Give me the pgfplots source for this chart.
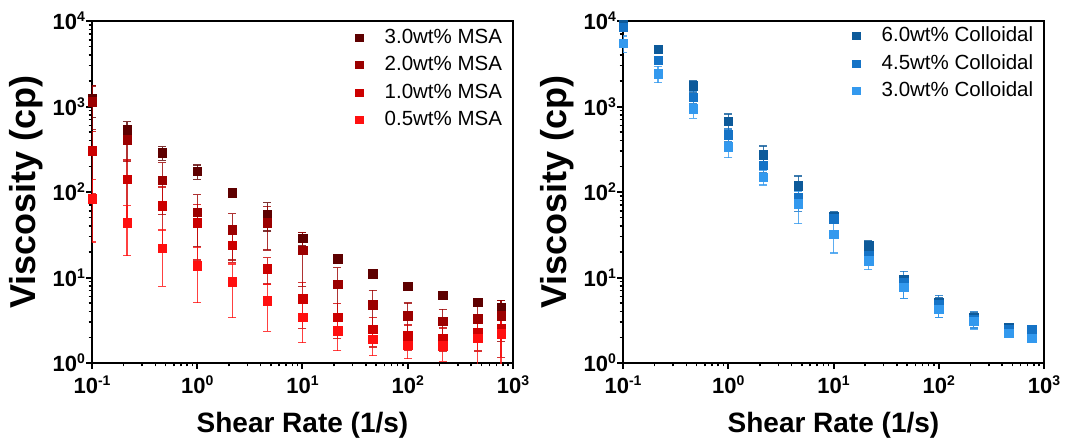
\documentclass[border=0pt]{standalone}
\usepackage{pgfplots}
\pgfplotsset{compat=1.18}
\usepackage{fontspec}
\setmainfont{Liberation Sans}
\definecolor{mA}{HTML}{5E0000}
\definecolor{mB}{HTML}{9B0000}
\definecolor{mC}{HTML}{CC0000}
\definecolor{mD}{HTML}{FF1010}
\definecolor{cA}{HTML}{0D5A9A}
\definecolor{cB}{HTML}{1573C6}
\definecolor{cC}{HTML}{3399EE}
\newcommand{\tl}[1]{\fontsize{22}{26}\selectfont\bfseries 10\raisebox{8pt}{\fontsize{14}{14}\selectfont\bfseries #1}}
\pgfplotsset{
  legend image code/.code={\path[draw=none] (-4.25pt,0pt) -- (25.5pt,0pt); \draw[#1, mark size=3.6pt] plot coordinates {(0pt,0pt)};},
  every axis/.append style={
    scale only axis, width=421pt, height=342pt,
    xmin=0.1, xmax=1000, ymin=1, ymax=10000,
    xtick={0.1,1,10,100,1000}, xticklabels={\tl{-1},\tl{0},\tl{1},\tl{2},\tl{3}},
    ytick={1,10,100,1000,10000}, yticklabels={\tl{0},\tl{1},\tl{2},\tl{3},\tl{4}},
    tick align=outside, tick pos=left,
    axis line style={line width=2.6pt},
    major tick length=6pt, minor tick length=3.5pt,
    major tick style={line width=2pt, black},
    minor tick style={line width=1.5pt, black},
    yticklabel style={inner sep=1pt},
    xticklabel style={yshift=-3pt},
    xlabel style={font=\fontsize{28}{30}\selectfont\bfseries, at={(axis description cs:0.5,0)}, anchor=base, yshift=-69.5pt},
    ylabel style={font=\fontsize{36}{40}\selectfont\bfseries, at={(axis description cs:-0.157,0.5)}, anchor=center},
    legend style={draw=none, fill=none, inner sep=0pt, font=\fontsize{20.5}{24}\selectfont,
      nodes={inner sep=0pt, text height=15pt, text depth=4pt}, row sep=8.5pt, cells={anchor=west},
      at={(rel axis cs:0,1)}, anchor=north west},
  },
  ser/.style={only marks, mark=square*, color=#1, mark size=4.25pt,
    mark options={solid, fill=#1, draw=#1},
    error bars/.cd, y dir=both, y explicit,
    error bar style={line width=1.2pt, #1, opacity=0.8},
    error mark options={rotate=90, mark size=4pt, line width=1.2pt, #1}},
}
\begin{document}
\begin{tikzpicture}
\useasboundingbox (-92pt,-79pt) rectangle (977pt,363pt);
\begin{loglogaxis}[at={(0pt,0pt)}, anchor=south west,
  xlabel={Shear Rate (1/s)}, ylabel={Viscosity (cp)},
  legend style={xshift=262.75pt, yshift=-6.8pt}]
\addplot[ser=mA] coordinates {
(0.1,1250) +- (0,500) (0.215,532) +- (0,130) (0.464,287) +- (0,52) (1,174) +- (0,33)
(2.15,98) +- (0,3) (4.64,55) +- (0,20) (10,28.9) +- (0,5) (21.5,16.7) +- (0,0.8)
(46.4,11.1) +- (0,0.5) (100,7.94) +- (0,0.4) (215,6.23) +- (0,0.3) (464,5.16) +- (0,0.3) (770,4.43) +- (0,1.0)};
\addlegendentry{3.0wt\% MSA}
\addplot[ser=mB] coordinates {
(0.1,1140) +- (0,600) (0.215,407) +- (0,180) (0.464,137) +- (0,83) (1,58) +- (0,35)
(2.15,36) +- (0,20) (4.64,44) +- (0,23) (10,20.9) +- (0,13) (21.5,8.3) +- (0,4.7)
(46.4,4.8) +- (0,2.3) (100,3.57) +- (0,1.45) (215,3.1) +- (0,1.15) (464,3.3) +- (0,1.35) (770,3.57) +- (0,1.8)};
\addlegendentry{2.0wt\% MSA}
\addplot[ser=mC] coordinates {
(0.1,305) +- (0,208) (0.215,141) +- (0,96) (0.464,69.5) +- (0,45) (1,44) +- (0,28)
(2.15,24) +- (0,9) (4.64,12.7) +- (0,4.3) (10,5.65) +- (0,3.1) (21.5,3.42) +- (0,1.5)
(46.4,2.49) +- (0,0.95) (100,2.1) +- (0,0.68) (215,1.96) +- (0,0.6) (464,2.28) +- (0,0.9) (770,2.57) +- (0,1.4)};
\addlegendentry{1.0wt\% MSA}
\addplot[ser=mD] coordinates {
(0.1,83) +- (0,57) (0.215,44) +- (0,26) (0.464,21.9) +- (0,14) (1,13.8) +- (0,8.7)
(2.15,8.9) +- (0,5.5) (4.64,5.35) +- (0,3) (10,3.42) +- (0,1.7) (21.5,2.39) +- (0,1)
(46.4,1.89) +- (0,0.67) (100,1.62) +- (0,0.5) (215,1.6) +- (0,0.55) (464,1.96) +- (0,1.1) (770,2.2) +- (0,1.3)};
\addlegendentry{0.5wt\% MSA}
\end{loglogaxis}
\begin{loglogaxis}[at={(531pt,0pt)}, anchor=south west,
  xlabel={Shear Rate (1/s)}, ylabel={Viscosity (cp)},
  legend style={xshift=228.75pt, yshift=-5.3pt}]
\addplot[ser=cA] coordinates {
(0.1,9000) +- (0,1000) (0.215,4665) +- (0,500) (0.464,1740) +- (0,270) (1,673) +- (0,146)
(2.15,274) +- (0,72) (4.64,118) +- (0,36) (10,51.3) +- (0,7) (21.5,23.7) +- (0,3)
(46.4,9.57) +- (0,1) (100,5.16) +- (0,0.6) (215,3.44) +- (0,0.4) (464,2.61) +- (0,0.25) (760,2.45) +- (0,0.15)};
\addlegendentry{6.0wt\% Colloidal}
\addplot[ser=cB] coordinates {
(0.1,8500) +- (0,800) (0.215,3470) +- (0,400) (0.464,1283) +- (0,200) (1,465) +- (0,80)
(2.15,207) +- (0,40) (4.64,85.5) +- (0,26) (10,48.6) +- (0,6) (21.5,18.1) +- (0,3.5)
(46.4,8.77) +- (0,3.1) (100,4.8) +- (0,1.4) (215,3.27) +- (0,0.7) (464,2.45) +- (0,0.25) (760,2.45) +- (0,0.15)};
\addlegendentry{4.5wt\% Colloidal}
\addplot[ser=cC] coordinates {
(0.1,5480) +- (0,1200) (0.215,2425) +- (0,520) (0.464,937) +- (0,208) (1,340) +- (0,87)
(2.15,149) +- (0,28) (4.64,72.8) +- (0,30) (10,32.1) +- (0,12.8) (21.5,15.8) +- (0,3.5)
(46.4,7.73) +- (0,2) (100,4.27) +- (0,0.9) (215,3.1) +- (0,0.6) (464,2.24) +- (0,0.2) (760,1.94) +- (0,0.15)};
\addlegendentry{3.0wt\% Colloidal}
\end{loglogaxis}
\end{tikzpicture}
\end{document}
